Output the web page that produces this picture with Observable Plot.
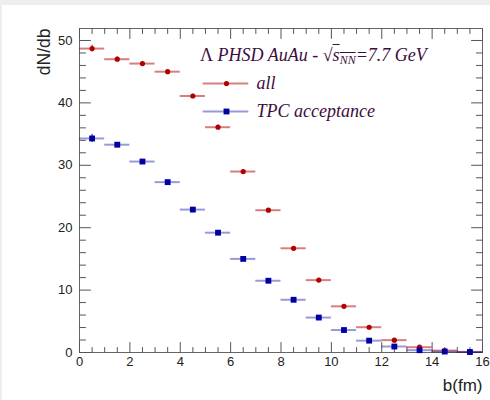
<!DOCTYPE html>
<html>
<head>
<meta charset="utf-8">
<script src="https://cdn.jsdelivr.net/npm/d3@7"></script>
<script src="https://cdn.jsdelivr.net/npm/@observablehq/plot@0.6"></script>
<style>
  body { margin: 0; padding: 5px 0 0 2px; background: #eeeeee; }
  #wrap { position: relative; width: 488px; height: 395px; background: #fff; }
  #title { position: absolute; left: 198px; top: 40px; font: italic 18px "Liberation Serif", serif; color: #3d0d3d; white-space: nowrap; line-height: 20px; }
  #title .up { font-style: normal; }
  #title sub { font-size: 12px; vertical-align: -3px; line-height: 0; }
</style>
</head>
<body>
<div id="wrap">
  <div id="title"><span class="up">Λ</span> PHSD AuAu - <span class="up">√</span><span style="text-decoration: overline;">s<sub>NN</sub></span>=7.7 GeV</div>
</div>
<script>
// impact parameter bin centres (fm), bin half-width 0.5
const bCenters = [0.5, 1.5, 2.5, 3.5, 4.5, 5.5, 6.5, 7.5, 8.5, 9.5, 10.5, 11.5, 12.5, 13.5, 14.5, 15.5];
const binHalf = 0.5;
// dN/db, all
const allValues = [48.7, 47.0, 46.3, 45.0, 41.1, 36.1, 29.0, 22.8, 16.7, 11.6, 7.4, 4.05, 1.98, 0.85, 0.3, 0.1];
const allErrors = [0.55, 0.35, 0.35, 0.3, 0.3, 0.3, 0.25, 0.25, 0.2, 0.2, 0.15, 0.15, 0.1, 0.1, 0.05, 0.05];
// dN/db, TPC acceptance
const tpcValues = [34.3, 33.3, 30.6, 27.3, 22.9, 19.2, 15.0, 11.5, 8.45, 5.6, 3.6, 1.9, 0.96, 0.37, 0.15, 0.08];
const tpcErrors = [0.65, 0.3, 0.3, 0.3, 0.25, 0.25, 0.2, 0.2, 0.15, 0.15, 0.1, 0.1, 0.05, 0.05, 0.03, 0.03];
// axes
const xMajor = [0, 2, 4, 6, 8, 10, 12, 14, 16];
const xMinor = [0.5, 1, 1.5, 2.5, 3, 3.5, 4.5, 5, 5.5, 6.5, 7, 7.5, 8.5, 9, 9.5, 10.5, 11, 11.5, 12.5, 13, 13.5, 14.5, 15, 15.5];
const yMajor = [0, 10, 20, 30, 40, 50];
const yMinor = [2, 4, 6, 8, 12, 14, 16, 18, 22, 24, 26, 28, 32, 34, 36, 38, 42, 44, 46, 48];
const legendLabels = ["all", "TPC acceptance"];

const allData = bCenters.map((b, i) => ({b, v: allValues[i], e: allErrors[i]}));
const tpcData = bCenters.map((b, i) => ({b, v: tpcValues[i], e: tpcErrors[i]}));

const red = "#b00000", blue = "#0000a0", tickColor = "#555", textColor = "#3d0d3d";
const lineShape = {draw(context, l) { context.moveTo(0, 0); context.lineTo(0, -l); }};
const ticks = (data, opts) => Plot.vector(data, {anchor: "start", shape: lineShape, stroke: tickColor, strokeWidth: 1, ...opts});
const legendLine = (label, dy, color, opacity) => Plot.vector([label], {frameAnchor: "top-left", dx: 146, dy, rotate: 90, length: 44, anchor: "middle", shape: lineShape, stroke: color, strokeOpacity: opacity, strokeWidth: 2});
const legendText = (label, dy) => Plot.text([label], {text: d => d, frameAnchor: "top-left", dx: 177, dy, textAnchor: "start", lineAnchor: "middle", fontSize: 18, fontStyle: "italic", fontFamily: "'Liberation Serif', serif", fill: textColor});

const chart = Plot.plot({
  width: 488,
  height: 395,
  marginLeft: 77,
  marginRight: 8,
  marginTop: 23,
  marginBottom: 48,
  style: {fontFamily: "'Liberation Sans', Arial, sans-serif", fontSize: "13px", color: "#222", background: "transparent"},
  x: {domain: [0, 16]},
  y: {domain: [0, 51.92]},
  marks: [
    Plot.frame({stroke: "#666"}),
    // ticks (inside frame, all four sides)
    ticks(xMajor, {x: d => d, frameAnchor: "bottom", rotate: 0, length: 10}),
    ticks(xMinor, {x: d => d, frameAnchor: "bottom", rotate: 0, length: 5}),
    ticks(xMajor, {x: d => d, frameAnchor: "top", rotate: 180, length: 10}),
    ticks(xMinor, {x: d => d, frameAnchor: "top", rotate: 180, length: 5}),
    ticks(yMajor, {y: d => d, frameAnchor: "left", rotate: 90, length: 11}),
    ticks(yMinor, {y: d => d, frameAnchor: "left", rotate: 90, length: 6}),
    ticks(yMajor, {y: d => d, frameAnchor: "right", rotate: 270, length: 11}),
    ticks(yMinor, {y: d => d, frameAnchor: "right", rotate: 270, length: 6}),
    Plot.axisX({ticks: xMajor, tickSize: 0, tickPadding: 4, label: null, fontSize: 13}),
    Plot.axisY({ticks: yMajor, tickSize: 0, tickPadding: 7, label: null, fontSize: 13}),
    Plot.text(["dN/db"], {text: d => d, frameAnchor: "top-left", rotate: -90, textAnchor: "end", lineAnchor: "middle", dx: -35, fontSize: 17.5, fill: "#222"}),
    Plot.text(["b(fm)"], {text: d => d, frameAnchor: "bottom-right", textAnchor: "end", lineAnchor: "middle", dy: 33, fontSize: 17, fill: "#222"}),
    // all
    Plot.ruleY(allData, {y: "v", x1: d => d.b - binHalf, x2: d => d.b + binHalf, stroke: red, strokeOpacity: 0.5, strokeWidth: 2}),
    Plot.ruleX(allData, {x: "b", y1: d => d.v - d.e, y2: d => d.v + d.e, stroke: red, strokeWidth: 1}),
    Plot.dot(allData, {x: "b", y: "v", r: 2.6, fill: red, stroke: "none"}),
    // TPC acceptance
    Plot.ruleY(tpcData, {y: "v", x1: d => d.b - binHalf, x2: d => d.b + binHalf, stroke: blue, strokeOpacity: 0.4, strokeWidth: 2}),
    Plot.ruleX(tpcData, {x: "b", y1: d => d.v - d.e, y2: d => d.v + d.e, stroke: blue, strokeWidth: 1}),
    Plot.dot(tpcData, {x: "b", y: "v", r: 3.3, symbol: "square", fill: blue, stroke: "none"}),
    // legend
    legendLine(legendLabels[0], 55, red, 0.5),
    Plot.dot([legendLabels[0]], {frameAnchor: "top-left", dx: 147, dy: 55, r: 2.6, fill: red}),
    legendText(legendLabels[0], 55),
    legendLine(legendLabels[1], 83, blue, 0.4),
    Plot.dot([legendLabels[1]], {frameAnchor: "top-left", dx: 147, dy: 83, r: 3.3, symbol: "square", fill: blue}),
    legendText(legendLabels[1], 83)
  ]
});
document.getElementById("wrap").prepend(chart);
</script>
</body>
</html>
